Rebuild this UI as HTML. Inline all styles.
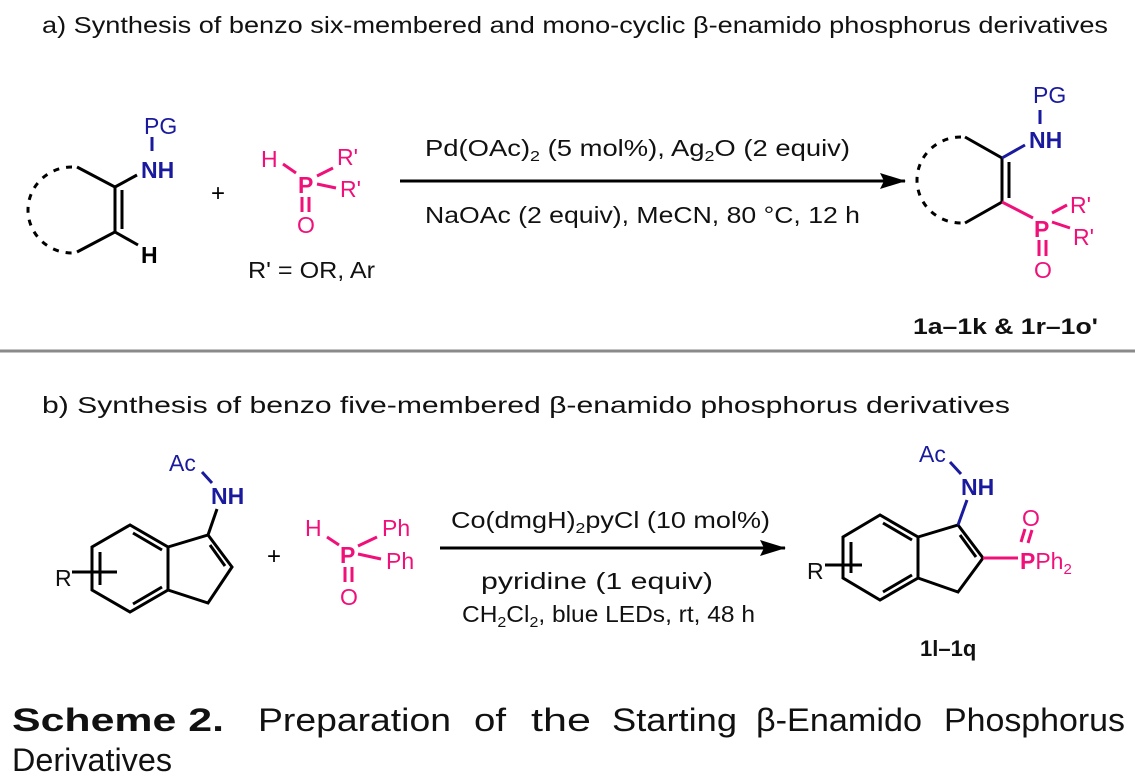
<!DOCTYPE html>
<html><head><meta charset="utf-8"><style>
html,body{margin:0;padding:0;background:#fff;width:1135px;height:783px;overflow:hidden}
svg{display:block}
text{font-family:"Liberation Sans","DejaVu Sans",sans-serif}
</style></head><body>
<svg width="1135" height="783" viewBox="0 0 1135 783" xmlns="http://www.w3.org/2000/svg">
<defs><marker id="ah" markerWidth="26" markerHeight="16" refX="25" refY="8" orient="auto" markerUnits="userSpaceOnUse"><path d="M0,0 L26,8 L0,16 L4,8 Z" fill="#000"/></marker></defs>
<g font-size="23" fill="#111">
<text x="42" y="33" textLength="1066" lengthAdjust="spacingAndGlyphs">a) Synthesis of benzo six-membered and mono-cyclic β-enamido phosphorus derivatives</text>
<text x="42" y="413" textLength="968" lengthAdjust="spacingAndGlyphs">b) Synthesis of benzo five-membered β-enamido phosphorus derivatives</text>
</g>
<!-- panel a reactant -->
<g stroke="#000" stroke-width="3" fill="none">
<path d="M72,167 A44,43 0 0 0 72,253" stroke-dasharray="6,7"/>
<path d="M77,167 L115,187 L115,232 L77,252"/>
<line x1="122" y1="190" x2="122" y2="229"/>
<line x1="115" y1="232" x2="138" y2="245"/>
</g>
<line x1="115" y1="187" x2="137" y2="175" stroke="#000" stroke-width="3"/>
<line x1="152" y1="137" x2="152" y2="151" stroke="#1a1a9e" stroke-width="3"/>
<text x="144" y="134" font-size="23" fill="#1a1a9e">PG</text>
<text x="141" y="178" font-size="23" font-weight="bold" fill="#1a1a9e">NH</text>
<text x="141" y="263" font-size="23" font-weight="bold" fill="#000">H</text>
<text x="211" y="201" font-size="24" fill="#000">+</text>
<g fill="#f0107a" font-size="23">
<text x="261" y="167">H</text>
<text x="298" y="193" font-weight="bold">P</text>
<text x="337" y="165">R'</text>
<text x="340" y="197">R'</text>
<text x="297" y="233">O</text>
</g>
<g stroke="#f0107a" stroke-width="3">
<line x1="283" y1="164" x2="296" y2="173"/>
<line x1="317" y1="176" x2="333" y2="168"/>
<line x1="317" y1="184" x2="336" y2="188"/>
<line x1="302" y1="197" x2="302" y2="212"/>
<line x1="309" y1="197" x2="309" y2="212"/>
</g>
<text x="248" y="278" font-size="23" fill="#111" textLength="127" lengthAdjust="spacingAndGlyphs">R' = OR, Ar</text>
<!-- arrow a -->
<line x1="400" y1="181" x2="905" y2="181" stroke="#000" stroke-width="3" marker-end="url(#ah)"/>
<g font-size="23" fill="#111">
<text x="425" y="156" textLength="425" lengthAdjust="spacingAndGlyphs">Pd(OAc)<tspan font-size="15" dy="5">2</tspan><tspan dy="-5"> (5 mol%), Ag</tspan><tspan font-size="15" dy="5">2</tspan><tspan dy="-5">O (2 equiv)</tspan></text>
<text x="425" y="223" textLength="435" lengthAdjust="spacingAndGlyphs">NaOAc (2 equiv), MeCN, 80 °C, 12 h</text>
</g>
<!-- product a -->
<g stroke="#000" stroke-width="3" fill="none">
<path d="M961,137 A44,43 0 0 0 961,223" stroke-dasharray="6,7"/>
<path d="M965,137 L1002,158 L1002,202 L965,223"/>
<line x1="1009" y1="162" x2="1009" y2="198"/>
</g>
<line x1="1002" y1="158" x2="1025" y2="145" stroke="#1a1a9e" stroke-width="3"/>
<line x1="1040" y1="110" x2="1040" y2="124" stroke="#1a1a9e" stroke-width="3"/>
<text x="1033" y="103" font-size="23" fill="#1a1a9e">PG</text>
<text x="1029" y="148" font-size="23" font-weight="bold" fill="#1a1a9e">NH</text>
<g stroke="#f0107a" stroke-width="3">
<line x1="1002" y1="202" x2="1033" y2="218"/>
<line x1="1052" y1="213" x2="1067" y2="205"/>
<line x1="1052" y1="222" x2="1070" y2="228"/>
<line x1="1039" y1="240" x2="1039" y2="256"/>
<line x1="1046" y1="240" x2="1046" y2="256"/>
</g>
<g fill="#f0107a" font-size="23">
<text x="1034" y="237" font-weight="bold">P</text>
<text x="1070" y="213">R'</text>
<text x="1073" y="245">R'</text>
<text x="1034" y="278">O</text>
</g>
<text x="913" y="334" font-size="22" font-weight="bold" fill="#111" textLength="185" lengthAdjust="spacingAndGlyphs">1a–1k &amp; 1r–1o'</text>
<line x1="0" y1="351" x2="1135" y2="351" stroke="#8a8a8a" stroke-width="3"/>
<!-- panel b reactant -->
<g stroke="#000" stroke-width="3" fill="none">
<path d="M130,525 L92,547 L92,590 L130,612 L168,590 L168,547 Z"/>
<line x1="133" y1="533" x2="162" y2="550"/>
<line x1="133" y1="604" x2="162" y2="587"/>
<line x1="100" y1="552" x2="100" y2="585"/>
<path d="M168,547 L208,535 L232,567 L208,603 L168,590"/>
<line x1="210" y1="545" x2="225" y2="566"/>
<line x1="72" y1="572" x2="117" y2="572"/>
<line x1="208" y1="535" x2="217" y2="509"/>
</g>
<text x="55" y="586" font-size="23" fill="#111">R</text>
<line x1="202" y1="472" x2="212" y2="483" stroke="#1a1a9e" stroke-width="3"/>
<text x="169" y="471" font-size="23" fill="#1a1a9e">Ac</text>
<text x="211" y="504" font-size="23" font-weight="bold" fill="#1a1a9e">NH</text>
<text x="267" y="564" font-size="24" fill="#000">+</text>
<g fill="#f0107a" font-size="23">
<text x="305" y="536">H</text>
<text x="340" y="563" font-weight="bold">P</text>
<text x="382" y="536">Ph</text>
<text x="386" y="569">Ph</text>
<text x="340" y="605">O</text>
</g>
<g stroke="#f0107a" stroke-width="3">
<line x1="327" y1="537" x2="339" y2="545"/>
<line x1="358" y1="546" x2="377" y2="537"/>
<line x1="358" y1="554" x2="381" y2="559"/>
<line x1="345" y1="567" x2="345" y2="582"/>
<line x1="352" y1="567" x2="352" y2="582"/>
</g>
<!-- arrow b -->
<line x1="440" y1="548" x2="785" y2="548" stroke="#000" stroke-width="3" marker-end="url(#ah)"/>
<g font-size="23" fill="#111">
<text x="451" y="528" textLength="319" lengthAdjust="spacingAndGlyphs">Co(dmgH)<tspan font-size="15" dy="5">2</tspan><tspan dy="-5">pyCl (10 mol%)</tspan></text>
<text x="481" y="589" textLength="232" lengthAdjust="spacingAndGlyphs">pyridine (1 equiv)</text>
<text x="462" y="622" textLength="293" lengthAdjust="spacingAndGlyphs">CH<tspan font-size="15" dy="5">2</tspan><tspan dy="-5">Cl</tspan><tspan font-size="15" dy="5">2</tspan><tspan dy="-5">, blue LEDs, rt, 48 h</tspan></text>
</g>
<!-- product b -->
<g stroke="#000" stroke-width="3" fill="none">
<path d="M880,515 L843,537 L843,578 L880,600 L918,578 L918,537 Z"/>
<line x1="883" y1="523" x2="912" y2="540"/>
<line x1="883" y1="592" x2="912" y2="575"/>
<line x1="851" y1="542" x2="851" y2="573"/>
<path d="M918,537 L958,525 L983,558 L958,592 L918,578"/>
<line x1="960" y1="535" x2="976" y2="557"/>
<line x1="825" y1="565" x2="862" y2="565"/>
</g>
<text x="807" y="579" font-size="23" fill="#111">R</text>
<g stroke="#1a1a9e" stroke-width="3">
<line x1="958" y1="525" x2="967" y2="500"/>
<line x1="950" y1="462" x2="961" y2="474"/>
</g>
<text x="919" y="462" font-size="23" fill="#1a1a9e">Ac</text>
<text x="961" y="495" font-size="23" font-weight="bold" fill="#1a1a9e">NH</text>
<g stroke="#f0107a" stroke-width="3">
<line x1="983" y1="558" x2="1018" y2="558"/>
<line x1="1021" y1="542" x2="1025" y2="529"/>
<line x1="1028" y1="543" x2="1032" y2="530"/>
</g>
<g fill="#f0107a" font-size="23">
<text x="1020" y="569"><tspan font-weight="bold">P</tspan>Ph<tspan font-size="15" dy="5">2</tspan></text>
<text x="1022" y="526">O</text>
</g>
<text x="920" y="656" font-size="22" font-weight="bold" fill="#111">1l–1q</text>
<!-- caption -->
<g font-size="32" fill="#111">
<text x="12" y="731" font-weight="bold" textLength="212" lengthAdjust="spacingAndGlyphs">Scheme 2.</text>
<text x="258" y="731" textLength="193" lengthAdjust="spacingAndGlyphs">Preparation</text>
<text x="474" y="731" textLength="32" lengthAdjust="spacingAndGlyphs">of</text>
<text x="531" y="731" textLength="60" lengthAdjust="spacingAndGlyphs">the</text>
<text x="612" y="731" textLength="125" lengthAdjust="spacingAndGlyphs">Starting</text>
<text x="756" y="731" textLength="166" lengthAdjust="spacingAndGlyphs">β-Enamido</text>
<text x="944" y="731" textLength="181" lengthAdjust="spacingAndGlyphs">Phosphorus</text>
<text x="12" y="771" textLength="160" lengthAdjust="spacingAndGlyphs">Derivatives</text>
</g>
</svg>
</body></html>
